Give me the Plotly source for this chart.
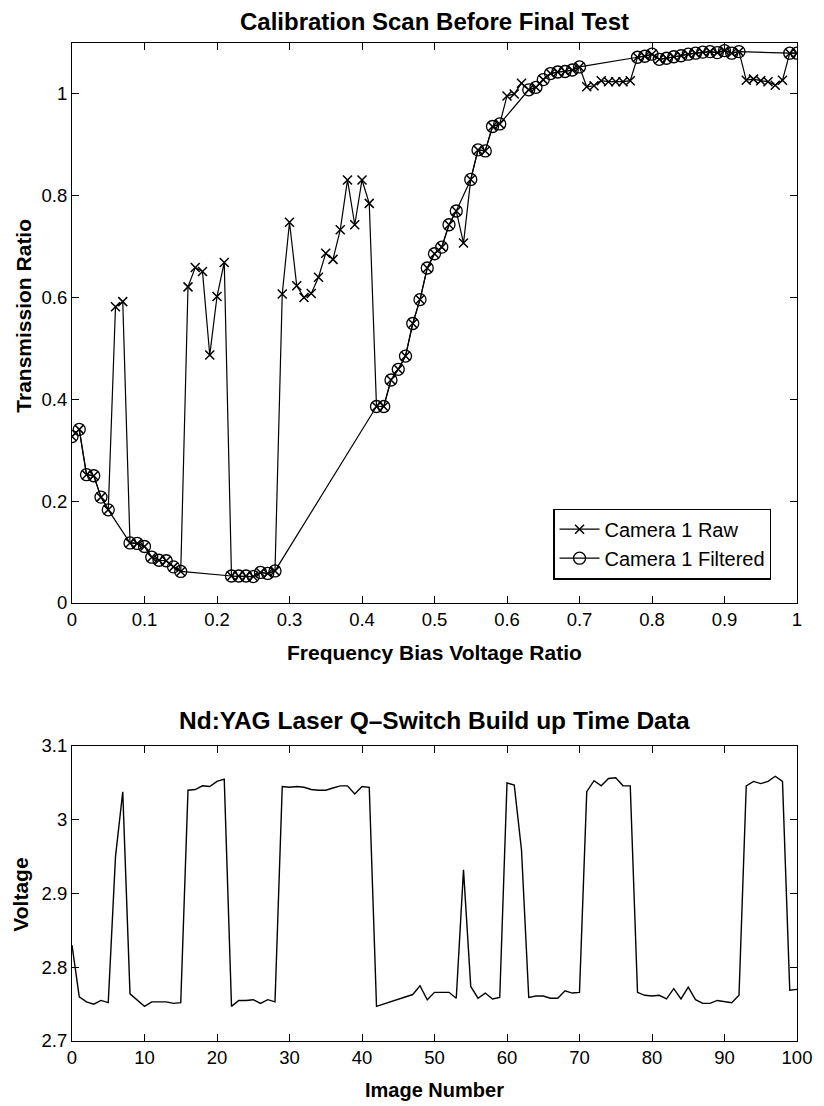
import plotly.graph_objects as go

# ---------------- data: calibration scan ----------------
bias_ratio = [0.00, 0.01, 0.02, 0.03, 0.04, 0.05, 0.06, 0.07, 0.08, 0.09,
              0.10, 0.11, 0.12, 0.13, 0.14, 0.15, 0.16, 0.17, 0.18, 0.19,
              0.20, 0.21, 0.22, 0.23, 0.24, 0.25, 0.26, 0.27, 0.28, 0.29,
              0.30, 0.31, 0.32, 0.33, 0.34, 0.35, 0.36, 0.37, 0.38, 0.39,
              0.40, 0.41, 0.42, 0.43, 0.44, 0.45, 0.46, 0.47, 0.48, 0.49,
              0.50, 0.51, 0.52, 0.53, 0.54, 0.55, 0.56, 0.57, 0.58, 0.59,
              0.60, 0.61, 0.62, 0.63, 0.64, 0.65, 0.66, 0.67, 0.68, 0.69,
              0.70, 0.71, 0.72, 0.73, 0.74, 0.75, 0.76, 0.77, 0.78, 0.79,
              0.80, 0.81, 0.82, 0.83, 0.84, 0.85, 0.86, 0.87, 0.88, 0.89,
              0.90, 0.91, 0.92, 0.93, 0.94, 0.95, 0.96, 0.97, 0.98, 0.99,
              1.00]
raw_ratio = [0.327, 0.341, 0.252, 0.250, 0.208, 0.183, 0.582, 0.592, 0.118, 0.117,
             0.111, 0.090, 0.084, 0.083, 0.071, 0.062, 0.621, 0.659, 0.651, 0.487,
             0.602, 0.669, 0.053, 0.053, 0.053, 0.052, 0.060, 0.058, 0.063, 0.607,
             0.748, 0.623, 0.600, 0.608, 0.640, 0.687, 0.675, 0.733, 0.831, 0.743,
             0.831, 0.785, 0.386, 0.386, 0.438, 0.459, 0.485, 0.549, 0.596, 0.658,
             0.686, 0.699, 0.743, 0.770, 0.707, 0.832, 0.890, 0.888, 0.936, 0.941,
             0.996, 1.000, 1.021, 1.008, 1.013, 1.028, 1.040, 1.043, 1.044, 1.047,
             1.053, 1.014, 1.016, 1.026, 1.024, 1.024, 1.024, 1.026, 1.072, 1.074,
             1.078, 1.068, 1.070, 1.073, 1.075, 1.078, 1.080, 1.082, 1.083, 1.081,
             1.085, 1.080, 1.083, 1.027, 1.029, 1.026, 1.024, 1.017, 1.027, 1.080,
             1.080]

filt_bias = [0.00, 0.01, 0.02, 0.03, 0.04, 0.05,
             0.08, 0.09, 0.10, 0.11, 0.12, 0.13, 0.14, 0.15,
             0.22, 0.23, 0.24, 0.25, 0.26, 0.27, 0.28,
             0.42, 0.43, 0.44, 0.45, 0.46, 0.47, 0.48, 0.49, 0.50, 0.51, 0.52, 0.53,
             0.55, 0.56, 0.57, 0.58, 0.59,
             0.63, 0.64, 0.65, 0.66, 0.67, 0.68, 0.69, 0.70,
             0.78, 0.79, 0.80, 0.81, 0.82, 0.83, 0.84, 0.85, 0.86, 0.87, 0.88, 0.89,
             0.90, 0.91, 0.92,
             0.99, 1.00]
filt_ratio = [0.327, 0.341, 0.252, 0.250, 0.208, 0.183,
              0.118, 0.117, 0.111, 0.090, 0.084, 0.083, 0.071, 0.062,
              0.053, 0.053, 0.053, 0.052, 0.060, 0.058, 0.063,
              0.386, 0.386, 0.438, 0.459, 0.485, 0.549, 0.596, 0.658, 0.686, 0.699, 0.743, 0.770,
              0.832, 0.890, 0.888, 0.936, 0.941,
              1.008, 1.013, 1.028, 1.040, 1.043, 1.044, 1.047, 1.053,
              1.072, 1.074, 1.078, 1.068, 1.070, 1.073, 1.075, 1.078, 1.080, 1.082, 1.083, 1.081,
              1.085, 1.080, 1.083,
              1.080, 1.080]

# ---------------- data: Q-switch build up ----------------
image_number = list(range(0, 101))
voltage = [2.830, 2.760, 2.753, 2.750, 2.755, 2.752, 2.950, 3.038, 2.764, 2.755,
           2.747, 2.753, 2.753, 2.753, 2.751, 2.752, 3.040, 3.041, 3.046, 3.045,
           3.052, 3.055, 2.747, 2.755, 2.755, 2.756, 2.751, 2.756, 2.753, 3.045,
           3.044, 3.045, 3.044, 3.041, 3.040, 3.040, 3.043, 3.046, 3.046, 3.035,
           3.045, 3.044, 2.747, 2.750, 2.754, 2.757, 2.760, 2.763, 2.775, 2.756,
           2.766, 2.766, 2.766, 2.758, 2.932, 2.774, 2.758, 2.765, 2.757, 2.759,
           3.050, 3.047, 2.959, 2.759, 2.761, 2.761, 2.758, 2.758, 2.768, 2.765,
           2.766, 3.038, 3.053, 3.046, 3.056, 3.057, 3.046, 3.046, 2.766, 2.762,
           2.761, 2.762, 2.757, 2.771, 2.757, 2.773, 2.756, 2.751, 2.751, 2.755,
           2.753, 2.752, 2.762, 3.046, 3.052, 3.049, 3.052, 3.059, 3.052, 2.769,
           2.770]

top_xticks = [0, 0.1, 0.2, 0.3, 0.4, 0.5, 0.6, 0.7, 0.8, 0.9, 1]
top_yticks = [0, 0.2, 0.4, 0.6, 0.8, 1]
bot_xticks = [0, 10, 20, 30, 40, 50, 60, 70, 80, 90, 100]
bot_yticks = [2.7, 2.8, 2.9, 3.0, 3.1]

# ---------------- figure ----------------
# the page body has an 8px margin, so the figure is placed at (8, 8)
OFF = 8
PLOT_L, PLOT_R = 72, 807          # absolute pixel edges of the plot areas
TOP_T, TOP_B = 43, 603
BOT_T, BOT_B = 746, 1041
W = 824 - OFF
H = 1106 - OFF
ML = PLOT_L - OFF
MR = W - (PLOT_R - OFF)
MT = TOP_T - OFF
MB = H - (BOT_B - OFF)
PH = BOT_B - TOP_T
PW = PLOT_R - PLOT_L


def py(ypix):
    return (BOT_B - ypix) / PH


def px(xpix):
    return (xpix - PLOT_L) / PW


FONT = "Liberation Sans, Arial, Helvetica, sans-serif"

fig = go.Figure()

fig.add_trace(go.Scatter(
    x=bias_ratio, y=raw_ratio, mode="lines+markers", name="Camera 1 Raw",
    line=dict(color="black", width=1.2),
    marker=dict(symbol="x-thin-open", size=9, color="black",
                line=dict(color="black", width=1.5)),
    xaxis="x", yaxis="y"))
fig.add_trace(go.Scatter(
    x=filt_bias, y=filt_ratio, mode="lines+markers", name="Camera 1 Filtered",
    line=dict(color="black", width=1.2),
    marker=dict(symbol="circle-open", size=12, color="black",
                line=dict(color="black", width=1.3)),
    xaxis="x", yaxis="y"))
fig.add_trace(go.Scatter(
    x=image_number, y=voltage, mode="lines", showlegend=False,
    line=dict(color="black", width=1.4),
    xaxis="x2", yaxis="y2"))

axis_common = dict(showline=True, linecolor="black", linewidth=1.2,
                   mirror="ticks", ticks="inside", ticklen=7, tickwidth=1.2,
                   tickcolor="black", showgrid=False, zeroline=False,
                   tickfont=dict(family=FONT, size=18.5, color="black"))

fig.update_layout(
    width=W, height=H,
    margin=dict(l=ML, r=MR, t=MT, b=MB),
    paper_bgcolor="white", plot_bgcolor="white",
    font=dict(family=FONT, color="black"),
    xaxis=dict(domain=[0, 1], range=[0, 1], tickvals=top_xticks,
               anchor="y", **axis_common),
    yaxis=dict(domain=[py(TOP_B), 1.0], range=[0, 1.1], tickvals=top_yticks,
               anchor="x", **axis_common),
    xaxis2=dict(domain=[0, 1], range=[0, 100], tickvals=bot_xticks,
                anchor="y2", **axis_common),
    yaxis2=dict(domain=[0, py(BOT_T)], range=[2.7, 3.1], tickvals=bot_yticks,
                anchor="x2", **axis_common),
    legend=dict(x=px(781), y=py(544), xanchor="right", yanchor="middle",
                bgcolor="white", bordercolor="black", borderwidth=1.2,
                font=dict(family=FONT, size=20, color="black"),
                tracegroupgap=0, itemwidth=40),
    showlegend=True,
)

annos = [
    dict(text="<b>Calibration Scan Before Final Test</b>", x=0.5, y=py(22),
         size=24, angle=0),
    dict(text="<b>Frequency Bias Voltage Ratio</b>", x=0.5, y=py(652),
         size=21, angle=0),
    dict(text="<b>Nd:YAG Laser Q\u2013Switch Build up Time Data</b>", x=0.5, y=py(720),
         size=24.5, angle=0),
    dict(text="<b>Image Number</b>", x=0.5, y=py(1090), size=20, angle=0),
    dict(text="<b>Transmission Ratio</b>", x=px(22), y=py(316),
         size=21, angle=-90),
    dict(text="<b>Voltage</b>", x=px(19), y=py(895),
         size=21, angle=-90),
]
for a in annos:
    fig.add_annotation(text=a["text"], x=a["x"], y=a["y"], xref="paper",
                       yref="paper", xanchor="center", yanchor="middle",
                       showarrow=False, textangle=a["angle"],
                       font=dict(family=FONT, size=a["size"], color="black"))

fig.write_html("out.html")
